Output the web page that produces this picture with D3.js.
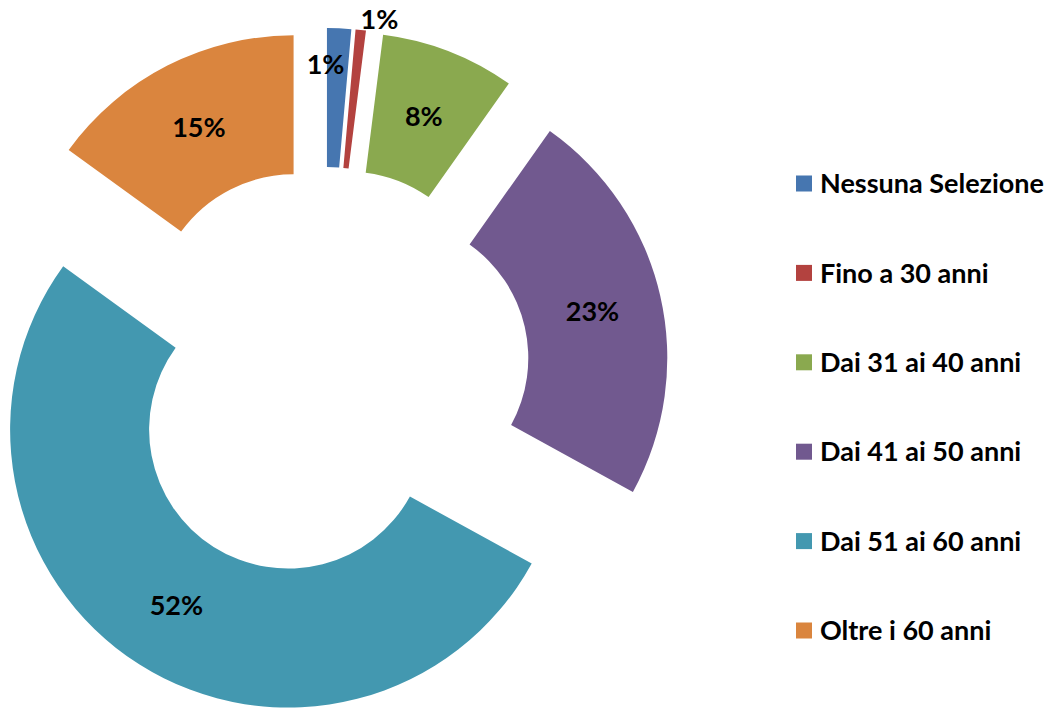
<!DOCTYPE html>
<html>
<head>
<meta charset="utf-8">
<script src="https://cdn.jsdelivr.net/npm/d3@7"></script>
<style>
  body { margin: 0; background: #fff; }
  text { font-family: Lato, "Open Sans", sans-serif; font-weight: bold; fill: #000; }
</style>
</head>
<body>
<div id="chart"></div>
<script>
// data (percent of answers)
const categories = ["Nessuna Selezione", "Fino a 30 anni", "Dai 31 ai 40 anni", "Dai 41 ai 50 anni", "Dai 51 ai 60 anni", "Oltre i 60 anni"];
const shares = [1.4, 0.6, 7.8, 23.2, 52.0, 15.0];
const colors = ["#4676B0", "#B3423F", "#8AA94F", "#71598F", "#4398B0", "#DA853E"];

const width = 1059, height = 711;
const cx = 324, cy = 373;
const outerR = 278, innerR = 139;
const explode = 67;

const svg = d3.select("#chart").append("svg")
    .attr("width", width)
    .attr("height", height);

const pie = d3.pie().sort(null).value(d => d)
const arc = d3.arc().innerRadius(innerR).outerRadius(outerR)

const total = d3.sum(shares)
const slices = pie(shares)

// every slice pushed out along its middle angle
function offset(d) {
    const a = (d.startAngle + d.endAngle) / 2
    return [explode * Math.sin(a), -explode * Math.cos(a)]
}

const g = svg.append("g").attr("transform", `translate(${cx},${cy})`)

const nodes = g.selectAll("g.slice")
    .data(slices)
    .enter().append("g")
    .attr("class", "slice")
    .attr("transform", d => { const o = offset(d); return `translate(${o[0]},${o[1]})` })

nodes.append("path")
    .attr("d", arc)
    .style("fill", (d, i) => colors[i])

// labels: centroid for normal slices, tiny ones get moved aside like excel does
function labelPos(d, i) {
    const a = (d.startAngle + d.endAngle) / 2
    if (d.value / total < 0.01) {
        // thin slice: put it just outside the ring, a bit clockwise
        const r = outerR + 13, b = a + 0.06
        return [r * Math.sin(b), -r * Math.cos(b)]
    }
    if (d.value / total < 0.02) {
        // small slice: inside the ring, shifted to the left
        const r = outerR - 36
        return [r * Math.sin(a) - 12, -r * Math.cos(a)]
    }
    return arc.centroid(d)
}

nodes.append("text")
    .attr("x", (d, i) => labelPos(d, i)[0])
    .attr("y", (d, i) => labelPos(d, i)[1])
    .attr("dy", "0.36em")
    .style("text-anchor", "middle")
    .style("font-size", "27px")
    .text(d => Math.round(d.value / total * 100) + "%")

// legend
const legend = svg.append("g").attr("transform", "translate(796,183.5)")
const rows = legend.selectAll("g.row")
    .data(categories)
    .enter().append("g")
    .attr("class", "row")
    .attr("transform", (d, i) => `translate(0,${i * 89.4})`)

rows.append("rect")
    .attr("x", 0).attr("y", -8)
    .attr("width", 16).attr("height", 16)
    .style("fill", (d, i) => colors[i])

rows.append("text")
    .attr("x", 24)
    .attr("dy", "0.36em")
    .style("font-size", "27px")
    .text(d => d)
</script>
</body>
</html>
